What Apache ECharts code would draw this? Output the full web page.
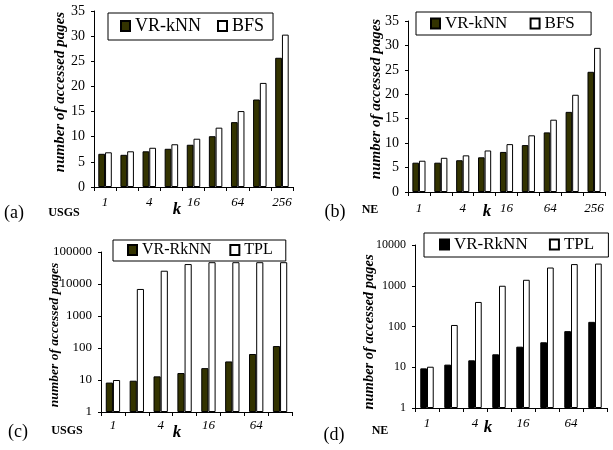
<!DOCTYPE html>
<html>
<head>
<meta charset="utf-8">
<script src="https://cdn.jsdelivr.net/npm/echarts@6/dist/echarts.min.js"></script>
<style>
html,body{margin:0;padding:0;background:#fff;}
#chart{width:613px;height:450px;}
</style>
</head>
<body>
<div id="chart"></div>
<script>
// ---- data ----
var kCats9 = ['1', '2', '4', '8', '16', '32', '64', '128', '256'];
var kCats8 = ['1', '2', '4', '8', '16', '32', '64', '128'];
var usgsVRkNN = [6.6, 6.4, 7.1, 7.6, 8.4, 10.1, 12.9, 17.4, 25.7];
var usgsBFS   = [6.9, 7.1, 7.8, 8.5, 9.6, 11.8, 15.1, 20.7, 30.3];
var neVRkNN   = [6.0, 6.0, 6.5, 7.1, 8.2, 9.6, 12.2, 16.4, 24.6];
var neBFS     = [6.4, 7.0, 7.5, 8.5, 9.8, 11.6, 14.8, 19.9, 29.5];
var usgsVRRkNN = [8.3, 9.5, 13, 16.5, 23.5, 38, 65, 115];
var usgsTPL    = [10, 7000, 26000, 42000, 48000, 48000, 48000, 48000];
var neVRRkNN   = [9.4, 11.6, 14.8, 20.8, 32, 41, 77, 130];
var neTPL      = [10.3, 109, 400, 1000, 1400, 2800, 3400, 3500];

var serif = 'Liberation Serif';
var olive = '#333300';

var chart = echarts.init(document.getElementById('chart'), null, {renderer: 'canvas'});

function xAx(grid, cats, margin) {
  return {
    type: 'category', gridIndex: grid, data: cats,
    axisLine: {lineStyle: {color: '#000', width: 1}},
    axisTick: {show: true, interval: 0, length: 4, lineStyle: {color: '#000'}},
    axisLabel: {interval: 1, margin: margin, fontFamily: serif, fontStyle: 'italic', fontSize: 13, color: '#000'},
    splitLine: {show: false}
  };
}
function yLin(grid) {
  return {
    type: 'value', gridIndex: grid, min: 0, max: 35, interval: 5,
    axisLine: {show: true, lineStyle: {color: '#000'}},
    axisTick: {show: true, length: 3, lineStyle: {color: '#000'}},
    axisLabel: {margin: 9, fontFamily: serif, fontSize: 14, color: '#000'},
    splitLine: {show: false}
  };
}
function yLog(grid, max, split, fs) {
  return {
    type: 'log', logBase: 10, gridIndex: grid, min: 1, max: max, splitNumber: split,
    axisLine: {show: true, lineStyle: {color: '#000'}},
    axisTick: {show: true, length: 3, lineStyle: {color: '#000'}},
    axisLabel: {margin: 9, fontFamily: serif, fontSize: fs, color: '#000', formatter: function (v) { return String(Math.round(v)); }},
    minorTick: {show: false},
    splitLine: {show: false}
  };
}
function bar(name, idx, data, color, gap) {
  return {
    type: 'bar', name: name, xAxisIndex: idx, yAxisIndex: idx, data: data,
    barGap: '0%', barCategoryGap: gap,
    itemStyle: {color: color, borderColor: '#000', borderWidth: 1},
    emphasis: {disabled: true}, animation: false
  };
}
function legend(names, left, top, fs, gap, pad) {
  return {
    data: names, left: left, top: top, width: 260, orient: 'horizontal',
    icon: 'rect',
    itemWidth: 9, itemHeight: 10, itemGap: gap, padding: pad,
    borderColor: '#000', borderWidth: 1, backgroundColor: '#fff',
    selectedMode: false,
    textStyle: {fontFamily: serif, fontSize: fs, color: '#000', lineHeight: fs}
  };
}
function txt(s, x, y, size, weight, style, rot) {
  return {
    type: 'text', x: x, y: y, rotation: rot || 0, silent: true,
    style: {text: s, fontFamily: serif, fontSize: size, fontWeight: weight || 'normal',
            fontStyle: style || 'normal', fill: '#000', textAlign: 'center', textVerticalAlign: 'middle'}
  };
}

var yTitle = 'number of accessed pages';

var option = {
  backgroundColor: '#fff',
  animation: false,
  grid: [
    {left: 94, right: 320, top: 11, bottom: 263},
    {left: 408, right: 8, top: 21, bottom: 258},
    {left: 101, right: 321, top: 252, bottom: 38},
    {left: 415, right: 6, top: 245, bottom: 42}
  ],
  xAxis: [xAx(0, kCats9, 9), xAx(1, kCats9, 10), xAx(2, kCats8, 7), xAx(3, kCats8, 9)],
  yAxis: [yLin(0), yLin(1), yLog(2, 100000, 5, 13), yLog(3, 10000, 4, 12)],
  legend: [
    legend(['VR-kNN', 'BFS'], 108, 13, 18, 16, [4, 9, 5, 12]),
    legend(['VR-kNN ', 'BFS '], 416, 12, 17, 18, [3, 12, 3, 14]),
    legend(['VR-RkNN', 'TPL'], 113, 240, 16, 18, [2, 13, 3, 14]),
    legend(['VR-RkNN ', 'TPL '], 424, 233, 17, 17, [3, 10, 4, 15])
  ],
  series: [
    bar('VR-kNN', 0, usgsVRkNN, olive, '39%'),
    bar('BFS', 0, usgsBFS, '#fff', '39%'),
    bar('VR-kNN ', 1, neVRkNN, olive, '40%'),
    bar('BFS ', 1, neBFS, '#fff', '40%'),
    bar('VR-RkNN', 2, usgsVRRkNN, olive, '40%'),
    bar('TPL', 2, usgsTPL, '#fff', '40%'),
    bar('VR-RkNN ', 3, neVRRkNN, '#000', '44%'),
    bar('TPL ', 3, neTPL, '#fff', '44%')
  ],
  graphic: [
    txt(yTitle, 60, 92, 15, 'bold', 'italic', Math.PI / 2),
    txt(yTitle, 376, 99, 15, 'bold', 'italic', Math.PI / 2),
    txt(yTitle, 55, 335, 13.5, 'bold', 'italic', Math.PI / 2),
    txt(yTitle, 369, 332, 14.5, 'bold', 'italic', Math.PI / 2),
    txt('(a)', 14, 213, 18),
    txt('USGS', 64, 213, 12, 'bold'),
    txt('k', 177, 210, 17, 'bold', 'italic'),
    txt('(b)', 335, 212, 18),
    txt('NE', 370, 210, 12, 'bold'),
    txt('k', 487, 212, 17, 'bold', 'italic'),
    txt('(c)', 18, 432, 18),
    txt('USGS', 67, 431, 12, 'bold'),
    txt('k', 177, 433, 17, 'bold', 'italic'),
    txt('(d)', 334, 435, 18),
    txt('NE', 380, 431, 12, 'bold'),
    txt('k', 488, 428, 17, 'bold', 'italic')
  ]
};
chart.setOption(option);
</script>
</body>
</html>
